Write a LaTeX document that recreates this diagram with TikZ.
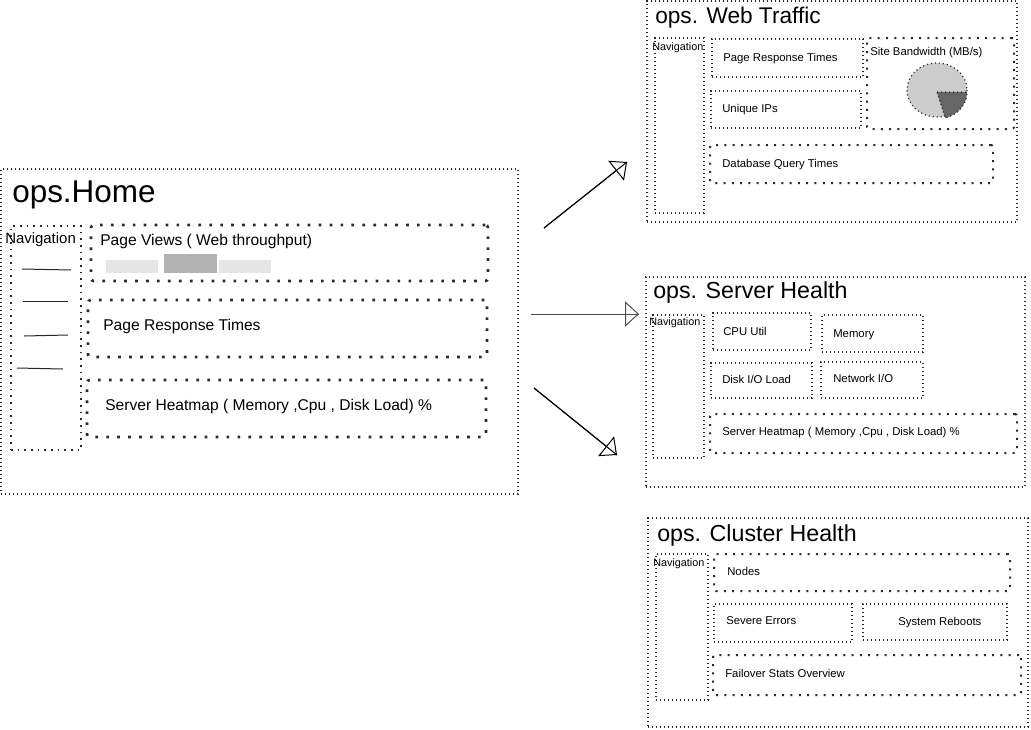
\documentclass[tikz,border=0pt]{standalone}
\usepackage{fontspec}
\setmainfont{Liberation Sans}
\usetikzlibrary{arrows.meta,fit}
\definecolor{lightbar}{HTML}{E6E6E6}
\definecolor{darkbar}{HTML}{B3B3B3}
\definecolor{pielight}{HTML}{CCCCCC}
\definecolor{piedark}{HTML}{666666}
\definecolor{dotcol}{HTML}{2A2A2A}
\begin{document}
\begin{tikzpicture}[x=0.75pt,y=-0.75pt,
 finebox/.style={draw=dotcol, line width=0.9pt, dash pattern=on 0.9pt off 2.1pt, inner sep=0pt},
 medbox/.style={draw=dotcol, line width=1.3pt, dash pattern=on 1.3pt off 3.7pt, inner sep=0pt},
 heavybox/.style={draw=dotcol, line width=2pt, dash pattern=on 2pt off 6.2pt, inner sep=0pt, rounded corners=2pt},
 boldbox/.style={draw=dotcol, line width=1.5pt, dash pattern=on 1.5pt off 4.7pt, inner sep=0pt, rounded corners=1.5pt},
 lbl/.style={anchor=base west, inner sep=0pt, font=\fontsize{8.5}{10}\selectfont},
 biglbl/.style={anchor=base west, inner sep=0pt, font=\fontsize{11.7}{14}\selectfont},
 navlbl/.style={anchor=base west, inner sep=0pt, font=\fontsize{8.1}{10}\selectfont},
 ttl/.style={anchor=base west, inner sep=0pt, font=\fontsize{17.4}{20}\selectfont},
 navline/.style={line width=0.75pt, draw=black!85},
 arr/.style={line width=0.75pt, postaction={draw, -{Triangle[open,length=10.5pt,width=19pt]}}},
]
\useasboundingbox (0,0) rectangle (1031,729);

% ---------------- ops.Home ----------------
\node[finebox, fit={(1,169)(518,494)}] (home) {};
\node[anchor=base west, inner sep=0pt, font=\fontsize{23.6}{27}\selectfont] (hometitle) at (12,202) {ops.Home};
\node[medbox, fit={(11,226)(81,450)}] (homenav) {};
\node[anchor=base west, inner sep=0pt, font=\fontsize{11.2}{13}\selectfont] (homenavlbl) at (5,243) {Navigation};
\draw[navline] (22,269) -- (71,270);
\draw[navline] (23,301) -- (68,301);
\draw[navline] (24,336) -- (68,335);
\draw[navline] (17,368) -- (63,369);

\node[heavybox, fit={(91,225)(488,281)}] (pv) {};
\node[biglbl] (pvlbl) at (100,245) {Page Views ( Web throughput)};
\fill[lightbar] (106,260) rectangle (158,273);
\fill[darkbar] (164,254) rectangle (217,273);
\fill[lightbar] (219,260) rectangle (271,273);

\node[heavybox, fit={(88,300)(487,357)}] (prt) {};
\node[biglbl] (prtlbl) at (103,330) {Page Response Times};

\node[heavybox, fit={(87,380)(486,437)}] (hm) {};
\node[biglbl] (hmlbl) at (105,410) {Server Heatmap ( Memory ,Cpu , Disk Load) \%};

% ---------------- ops. Web Traffic ----------------
\node[finebox, fit={(647,1)(1017,222)}] (web) {};
\node[anchor=base west, inner sep=0pt, font=\fontsize{17}{20}\selectfont] (webtitle) at (655,23) {ops. Web Traffic};
\node[finebox, fit={(655,38)(704,213)}] (webnav) {};
\node[navlbl] (webnavlbl) at (652,50) {Navigation};
\node[finebox, fit={(712,39)(863,77)}] (wprt) {};
\node[lbl] (wprtlbl) at (723,61) {Page Response Times};
\node[finebox, fit={(711,91)(861,128)}] (wip) {};
\node[lbl] (wiplbl) at (722,112) {Unique IPs};
\node[boldbox, fit={(867,38)(1014,129)}] (wbw) {};
\node[lbl] (wbwlbl) at (870,55) {Site Bandwidth (MB/s)};
\filldraw[fill=pielight, draw=dotcol, line width=0.9pt, dash pattern=on 0.9pt off 2.1pt] (937,90) ellipse [x radius=30, y radius=27];
\filldraw[fill=piedark, draw=dotcol, line width=0.9pt, dash pattern=on 0.9pt off 2.1pt] (937,92) -- (967,92) arc[start angle=0, end angle=74, x radius=30, y radius=27] -- cycle;
\node[boldbox, fit={(710,145)(993,183)}] (wdb) {};
\node[lbl] (wdblbl) at (722,167) {Database Query Times};

% ---------------- ops. Server Health ----------------
\node[finebox, fit={(646,277)(1025,487)}] (srv) {};
\node[ttl] (srvtitle) at (653,298) {ops. Server Health};
\node[finebox, fit={(653,315)(704,458)}] (srvnav) {};
\node[navlbl] (srvnavlbl) at (649,325) {Navigation};
\node[finebox, fit={(713,313)(811,350)}] (cpu) {};
\node[lbl] (cpulbl) at (723,335) {CPU Util};
\node[finebox, fit={(822,315)(923,352)}] (mem) {};
\node[lbl] (memlbl) at (833,337) {Memory};
\node[finebox, fit={(711,363)(812,398)}] (disk) {};
\node[lbl] (disklbl) at (722,383) {Disk I/O Load};
\node[finebox, fit={(821,362)(923,398)}] (net) {};
\node[lbl] (netlbl) at (833,382) {Network I/O};
\node[boldbox, fit={(710,414)(1017,453)}] (shm) {};
\node[lbl] (shmlbl) at (722,435) {Server Heatmap ( Memory ,Cpu , Disk Load) \%};

% ---------------- ops. Cluster Health ----------------
\node[finebox, fit={(648,518)(1028,727)}] (cl) {};
\node[ttl] (cltitle) at (657,541) {ops. Cluster Health};
\node[finebox, fit={(656,554)(708,700)}] (clnav) {};
\node[navlbl] (clnavlbl) at (653,566) {Navigation};
\node[boldbox, fit={(714,554)(1010,591)}] (nodes) {};
\node[lbl] (nodeslbl) at (727,575) {Nodes};
\node[finebox, fit={(714,604)(852,642)}] (sev) {};
\node[lbl] (sevlbl) at (726,624) {Severe Errors};
\node[finebox, fit={(863,604)(1007,640)}] (reb) {};
\node[lbl] (reblbl) at (898,625) {System Reboots};
\node[boldbox, fit={(713,655)(1021,695)}] (fail) {};
\node[lbl] (faillbl) at (725,677) {Failover Stats Overview};

% ---------------- arrows ----------------
\coordinate (a1s) at (544,228);
\coordinate (a1e) at (627,162);
\coordinate (a2s) at (531,314);
\coordinate (a2e) at (639,314);
\coordinate (a3s) at (534,388);
\coordinate (a3e) at (617,455);
\draw[arr] (a1s) -- (a1e);
\draw[arr, draw=black!70] (a2s) -- (a2e);
\draw[arr] (a3s) -- (a3e);
\end{tikzpicture}
\end{document}
